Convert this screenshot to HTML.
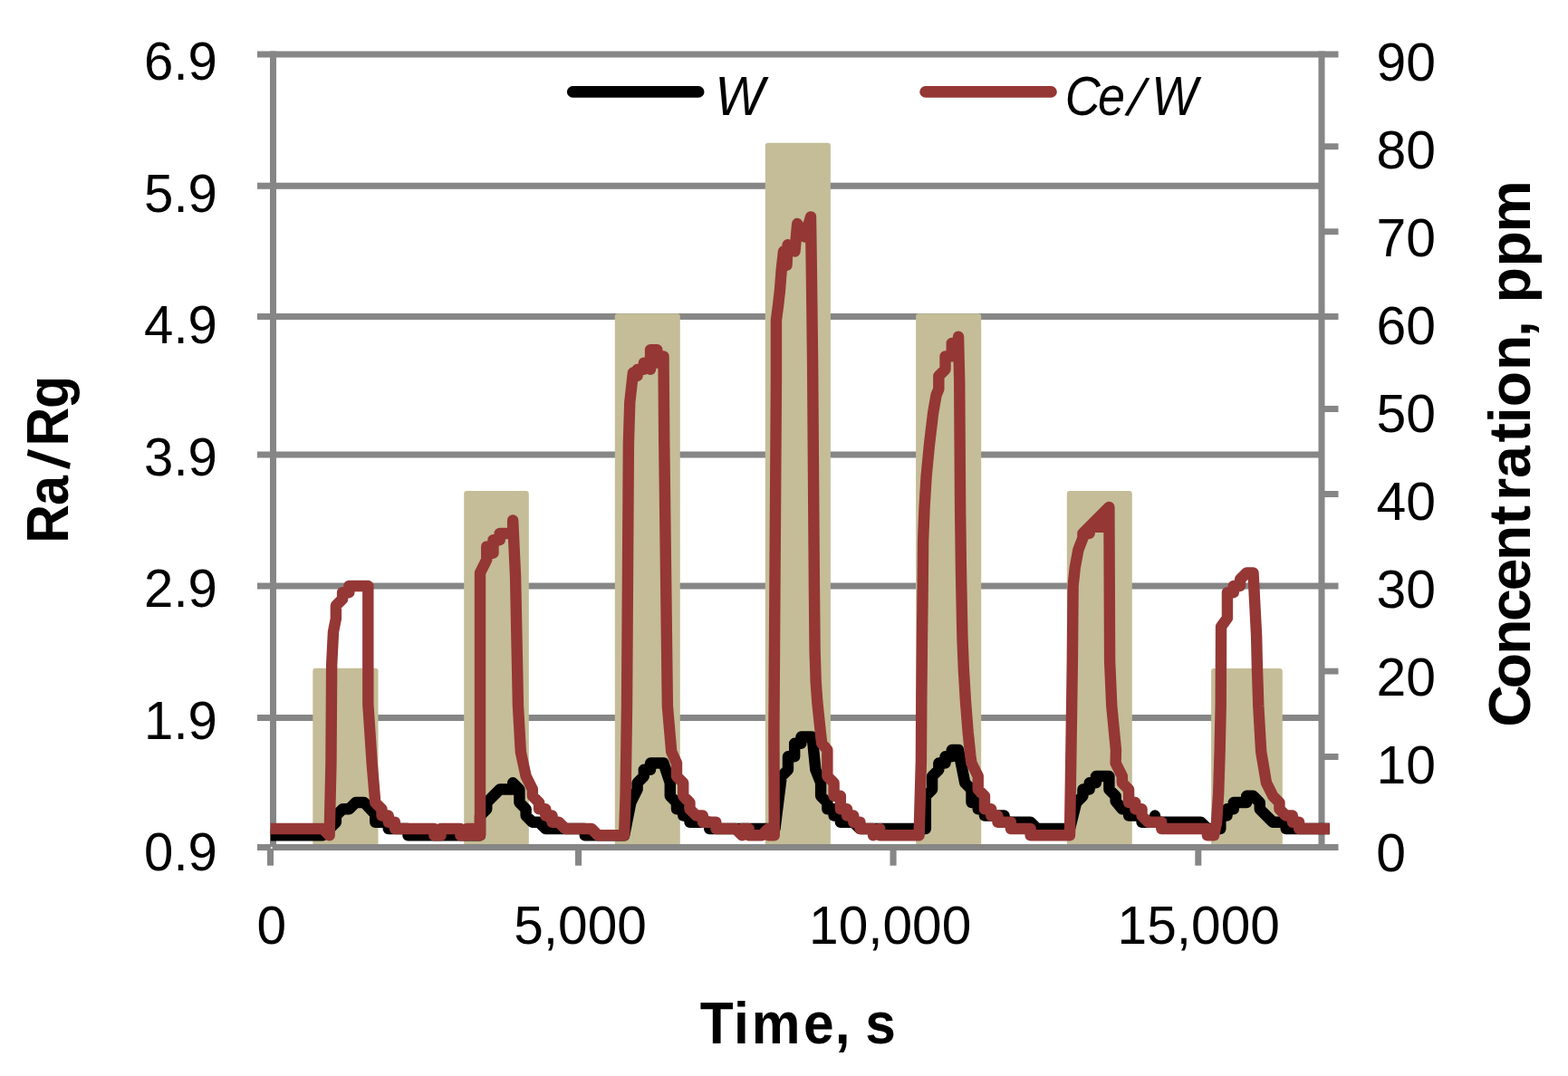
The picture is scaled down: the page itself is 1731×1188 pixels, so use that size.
<!DOCTYPE html>
<html lang="en"><head><meta charset="utf-8"><title>Ra/Rg vs Time</title>
<style>html,body{margin:0;padding:0;background:#fff}body{width:1731px;height:1188px;overflow:hidden}svg{display:block}text{font-family:"Liberation Sans",sans-serif;fill:#000}</style>
</head><body>
<svg width="1731" height="1188" viewBox="0 0 1731 1188">
<rect width="1731" height="1188" fill="#fff"/>
<g id="grid">
<rect x="284" y="56.5" width="1175" height="7" fill="#868686"/>
<rect x="284" y="201.7" width="1175" height="7.1" fill="#868686"/>
<rect x="284" y="346" width="1175" height="7" fill="#868686"/>
<rect x="284" y="498.5" width="1175" height="7" fill="#868686"/>
<rect x="284" y="643.5" width="1175" height="7" fill="#868686"/>
<rect x="284" y="789" width="1175" height="7" fill="#868686"/>
</g>
<g id="bars">
<rect x="345.3" y="737.8" width="72.2" height="199.2" fill="#C4BD97" rx="3.2"/>
<rect x="512.2" y="542" width="71.6" height="395" fill="#C4BD97" rx="3.2"/>
<rect x="678.8" y="346.2" width="72" height="590.8" fill="#C4BD97" rx="3.2"/>
<rect x="844.8" y="157.8" width="72.1" height="779.2" fill="#C4BD97" rx="3.2"/>
<rect x="1011.1" y="346.3" width="72.1" height="590.7" fill="#C4BD97" rx="3.2"/>
<rect x="1177.8" y="542.1" width="72" height="394.9" fill="#C4BD97" rx="3.2"/>
<rect x="1337.1" y="738" width="78.7" height="199" fill="#C4BD97" rx="3.2"/>
</g>
<g id="axes">
<rect x="284" y="932" width="1193.5" height="7" fill="#868686"/>
<rect x="298" y="56.5" width="7" height="882.5" fill="#868686"/>
<rect x="1455.5" y="56.5" width="7" height="882.5" fill="#868686"/>
<rect x="1459" y="56.5" width="18.5" height="7" fill="#868686"/>
<rect x="1459" y="158.3" width="18.5" height="6.9" fill="#868686"/>
<rect x="1459" y="252.3" width="18.5" height="6.9" fill="#868686"/>
<rect x="1459" y="346" width="18.5" height="7" fill="#868686"/>
<rect x="1459" y="448" width="18.5" height="7" fill="#868686"/>
<rect x="1459" y="542" width="18.5" height="7" fill="#868686"/>
<rect x="1459" y="643.5" width="18.5" height="7" fill="#868686"/>
<rect x="1459" y="737.7" width="18.5" height="6.8" fill="#868686"/>
<rect x="1459" y="832" width="18.5" height="7" fill="#868686"/>
<rect x="295" y="936" width="7" height="19.7" fill="#868686"/>
<rect x="635" y="936" width="7.1" height="19.7" fill="#868686"/>
<rect x="982.5" y="936" width="7.1" height="19.7" fill="#868686"/>
<rect x="1319.3" y="936" width="7" height="19.7" fill="#868686"/>
</g>
<circle cx="299.8" cy="936" r="1.1" fill="#fff"/>
<g id="series">
<path d="M298.7 922.25 L356.42 922.25 L363.65 915 L370.88 907.75 L370.88 900.51 L378.12 893.26 L385.35 893.26 L392.58 886.02 L401.98 886.02 L414.28 899.06 L414.28 907.75 L428.75 907.75 L428.75 915 L450.45 915 L450.45 922.25 L530.01 922.25 L530.01 900.51 L537.24 893.26 L537.24 886.02 L551.71 871.53 L566.17 871.53 L566.17 864.28 L573.41 871.53 L573.41 886.02 L580.64 893.26 L580.64 900.51 L587.87 907.75 L595.11 907.75 L602.34 915 L645.74 915 L645.74 922.25 L689.13 922.25 L696.37 886.02 L703.6 871.53 L703.6 864.28 L710.83 857.04 L710.83 849.79 L718.07 849.79 L718.07 842.55 L732.53 842.55 L739.77 864.28 L739.77 878.77 L747 886.02 L747 893.26 L754.23 893.26 L754.23 900.51 L761.46 900.51 L761.46 907.75 L783.16 907.75 L783.16 915 L855.49 915 L862.73 857.04 L869.96 849.79 L869.96 835.3 L877.19 835.3 L877.19 820.82 L884.43 820.82 L884.43 813.57 L896.72 813.57 L900.34 849.79 L906.12 864.28 L906.12 878.77 L913.36 886.02 L913.36 893.26 L920.59 893.26 L920.59 900.51 L927.82 900.51 L927.82 907.75 L942.29 907.75 L949.52 915 L1021.85 915 L1021.85 878.77 L1029.09 871.53 L1029.09 857.04 L1036.32 849.79 L1036.32 842.55 L1043.55 842.55 L1043.55 835.3 L1050.78 835.3 L1050.78 828.06 L1058.02 828.06 L1065.25 864.28 L1072.48 871.53 L1072.48 886.02 L1079.72 886.02 L1079.72 893.26 L1086.95 893.26 L1086.95 900.51 L1108.65 900.51 L1108.65 907.75 L1137.58 907.75 L1144.81 915 L1180.98 915 L1188.21 886.02 L1195.44 878.77 L1195.44 871.53 L1202.68 871.53 L1202.68 864.28 L1209.91 864.28 L1209.91 857.04 L1224.38 857.04 L1224.38 871.53 L1231.61 878.77 L1231.61 884.57 L1238.84 893.26 L1246.08 893.26 L1246.08 900.51 L1260.54 900.51 L1260.54 907.75 L1275.01 907.75 L1275.01 900.51 L1275.01 907.75 L1325.64 907.75 L1332.87 915 L1347.34 915 L1347.34 900.51 L1354.57 900.51 L1354.57 893.26 L1361.8 893.26 L1361.8 886.02 L1376.27 886.02 L1376.27 878.77 L1383.5 878.77 L1390.74 886.02 L1390.74 893.26 L1405.2 907.75 L1419.67 907.75 L1419.67 915 L1467.8 915" fill="none" stroke="#000" stroke-width="12.4" stroke-linejoin="round" stroke-linecap="butt"/>
<path d="M298.7 915 L356.42 915 L363.65 922.25 L365.46 842.55 L366.18 733.88 L367.99 697.65 L370.88 683.16 L370.88 668.67 L378.12 661.42 L378.12 654.18 L385.35 654.18 L385.35 646.93 L406.32 646.93 L406.32 777.35 L410.66 842.55 L414.28 886.02 L421.51 893.26 L421.51 900.51 L428.75 900.51 L428.75 907.75 L435.98 907.75 L435.98 915 L479.38 915 L479.38 922.25 L486.61 922.25 L486.61 915 L508.31 915 L508.31 922.25 L515.54 922.25 L515.54 915 L522.78 915 L522.78 922.25 L530.01 922.25 L530.01 632.44 L537.24 617.95 L537.24 603.46 L544.48 610.71 L544.48 596.22 L551.71 596.22 L551.71 588.98 L566.17 588.98 L566.17 574.49 L569.07 636.79 L571.96 779.52 L574.85 830.23 L580.64 857.04 L587.87 871.53 L587.87 878.77 L595.11 886.02 L595.11 893.26 L602.34 893.26 L602.34 900.51 L609.57 900.51 L609.57 907.75 L616.8 907.75 L624.04 915 L652.97 915 L660.2 922.25 L689.13 922.25 L690.58 878.77 L692.03 779.52 L693.91 488.99 L695.28 444.07 L698.9 411.47 L703.6 415.09 L703.6 407.85 L710.83 407.85 L710.83 400.61 L718.07 407.85 L718.07 400.61 L727.47 400.61 L718.07 400.61 L718.07 386.12 L725.3 386.12 L725.3 393.36 L732.53 393.36 L733.26 488.99 L736.87 779.52 L741.21 829.87 L747 842.55 L747 857.04 L754.23 864.28 L754.23 878.77 L761.46 886.02 L761.46 893.26 L768.7 900.51 L775.93 900.51 L775.93 907.75 L790.4 907.75 L790.4 915 L812.1 915 L819.33 922.25 L819.33 915 L826.56 915 L826.56 922.25 L841.03 922.25 L848.26 915 L848.26 922.25 L854.77 922.25 L854.41 806.33 L856.94 419.44 L856.94 353.51 L859.11 336.85 L860.99 320.19 L862.73 297.73 L865 277.5 L868.5 292.8 L869.6 270.3 L877.5 277.5 L880.2 247 L888.6 261.6 L895 239.4 L895.9 302 L897.1 400 L898.9 647 L899.6 718 L900.7 753 L902.3 775 L904.9 800 L906.6 816 L907.21 820.82 L913.36 828.06 L913.36 857.04 L920.59 864.28 L920.59 878.77 L927.82 878.77 L927.82 893.26 L935.06 893.26 L935.06 900.51 L942.29 900.51 L942.29 907.75 L949.52 907.75 L949.52 915 L963.99 915 L963.99 922.25 L971.22 915 L971.22 922.25 L1014.62 922.25 L1016.9 840 L1017.3 773.5 L1018 702.8 L1018.7 646.2 L1019.1 596.7 L1020.5 561.4 L1022.6 526 L1026 490.7 L1030.2 455.3 L1033.6 436 L1036.32 429.58 L1036.32 415.09 L1043.55 407.85 L1043.55 393.36 L1050.78 393.36 L1050.78 378.87 L1058.02 378.87 L1058.02 371.62 L1059.2 420 L1060.1 561.4 L1061 632 L1062.4 702.8 L1063.8 738 L1065.9 773.5 L1068.7 808.8 L1071.3 834 L1072.48 842.55 L1079.72 857.04 L1079.72 871.53 L1086.95 878.77 L1086.95 893.26 L1094.18 893.26 L1094.18 900.51 L1101.42 900.51 L1101.42 907.75 L1115.88 907.75 L1115.88 915 L1137.58 915 L1137.58 922.25 L1180.98 922.25 L1183.15 779.52 L1183.87 729.53 L1184.6 646.93 L1186.77 626.65 L1190.38 607.09 L1195.44 594.05 L1195.44 588.98 L1202.68 588.98 L1202.68 581.73 L1224.38 581.73 L1202.68 581.73 L1202.68 588.98 L1195.44 588.98 L1224.38 560 L1225.1 729.53 L1227.27 779.52 L1231.97 828.06 L1231.61 842.55 L1238.84 857.04 L1238.84 864.28 L1246.08 871.53 L1246.08 886.02 L1253.31 886.02 L1253.31 893.26 L1260.54 893.26 L1260.54 900.51 L1267.77 907.75 L1282.24 907.75 L1282.24 915 L1332.87 915 L1332.87 922.25 L1340.11 922.25 L1343 908.48 L1345.17 876.24 L1346.61 829.87 L1347.7 779.52 L1348.06 691.85 L1354.93 682.44 L1354.93 654.18 L1361.8 654.18 L1361.8 646.93 L1369.04 646.93 L1369.04 639.69 L1376.27 632.44 L1383.5 632.44 L1387.12 702 L1387.84 734.6 L1389.29 779.52 L1392.18 829.87 L1397.97 864.28 L1405.2 878.77 L1412.43 886.02 L1412.43 893.26 L1419.67 900.51 L1426.9 900.51 L1426.9 907.75 L1434.13 907.75 L1434.13 915 L1467.8 915" fill="none" stroke="#953735" stroke-width="12.4" stroke-linejoin="round" stroke-linecap="butt"/>
</g>
<g id="legend">
<line x1="632.2" y1="101.4" x2="771.2" y2="101.4" stroke="#000" stroke-width="12.6" stroke-linecap="round"/>
<line x1="1021.6" y1="101.4" x2="1160.5" y2="101.4" stroke="#953735" stroke-width="12.6" stroke-linecap="round"/>
</g>
<g id="labels">
<text transform="translate(159.11 88.30) scale(0.9720 1.0000)" style="font-size:59.8px;">6.9</text>
<text transform="translate(159.11 233.77) scale(0.9720 1.0000)" style="font-size:59.8px;">5.9</text>
<text transform="translate(159.11 379.24) scale(0.9720 1.0000)" style="font-size:59.8px;">4.9</text>
<text transform="translate(159.11 524.71) scale(0.9720 1.0000)" style="font-size:59.8px;">3.9</text>
<text transform="translate(159.11 670.18) scale(0.9720 1.0000)" style="font-size:59.8px;">2.9</text>
<text transform="translate(159.11 815.65) scale(0.9720 1.0000)" style="font-size:59.8px;">1.9</text>
<text transform="translate(159.11 961.12) scale(0.9720 1.0000)" style="font-size:59.8px;">0.9</text>
<text transform="translate(1519.48 88.60) scale(0.9850 1.0000)" style="font-size:59.8px;">90</text>
<text transform="translate(1519.48 185.60) scale(0.9850 1.0000)" style="font-size:59.8px;">80</text>
<text transform="translate(1519.48 282.60) scale(0.9850 1.0000)" style="font-size:59.8px;">70</text>
<text transform="translate(1519.48 379.60) scale(0.9850 1.0000)" style="font-size:59.8px;">60</text>
<text transform="translate(1519.48 476.60) scale(0.9850 1.0000)" style="font-size:59.8px;">50</text>
<text transform="translate(1519.48 573.60) scale(0.9850 1.0000)" style="font-size:59.8px;">40</text>
<text transform="translate(1519.48 670.60) scale(0.9850 1.0000)" style="font-size:59.8px;">30</text>
<text transform="translate(1519.48 767.60) scale(0.9850 1.0000)" style="font-size:59.8px;">20</text>
<text transform="translate(1519.48 864.60) scale(0.9850 1.0000)" style="font-size:59.8px;">10</text>
<text transform="translate(1519.24 961.60) scale(0.9850 1.0000)" style="font-size:59.8px;">0</text>
<text transform="translate(283.44 1042.15) scale(0.9800 1.0000)" style="font-size:59.8px;">0</text>
<text transform="translate(567.25 1042.15) scale(0.9800 1.0000)" style="font-size:59.8px;">5,000</text>
<text transform="translate(893.06 1042.15) scale(0.9800 1.0000)" style="font-size:59.8px;">10,000</text>
<text transform="translate(1233.61 1042.15) scale(0.9800 1.0000)" style="font-size:59.8px;">15,000</text>
</g>
<g id="titles">
<text transform="translate(0.00 1152.10) scale(0.9200 1.0000)" x="839.96 880.37 901.96 964.05 1001.89 1035.40 1038.24" y="0" style="font-size:65.7px;font-weight:bold">Time, s</text>
<text transform="translate(75.30 594.40) rotate(-90) scale(0.9000 1.0000)" x="-6.02 40.45 84.46 113.31 159.45" y="0" rotate="0 0 9 0 0" style="font-size:65.7px;font-weight:bold">Ra/Rg</text>
<text transform="translate(1688.60 795.20) rotate(-90) scale(0.9800 1.0000)" x="-7.61 35.68 73.98 111.34 145.89 179.80 220.08 247.38 272.71 312.94 334.69 353.02 394.13 431.82 465.33 470.11 511.03 549.64" y="0" style="font-size:65.7px;font-weight:bold">Concentration, ppm</text>
</g>
<g id="legendtext">
<text transform="translate(789.16 127.20) scale(0.9474 1.0000)" style="font-size:61.3px;font-style:italic">W</text>
<text transform="translate(0.00 127.20) scale(0.8800 1.0000)" x="1336.04 1377.25 1414.19 1444.71" y="0" rotate="0 0 8 0" style="font-size:61.3px;font-style:italic">Ce/W</text>
</g>
</svg></body></html>
